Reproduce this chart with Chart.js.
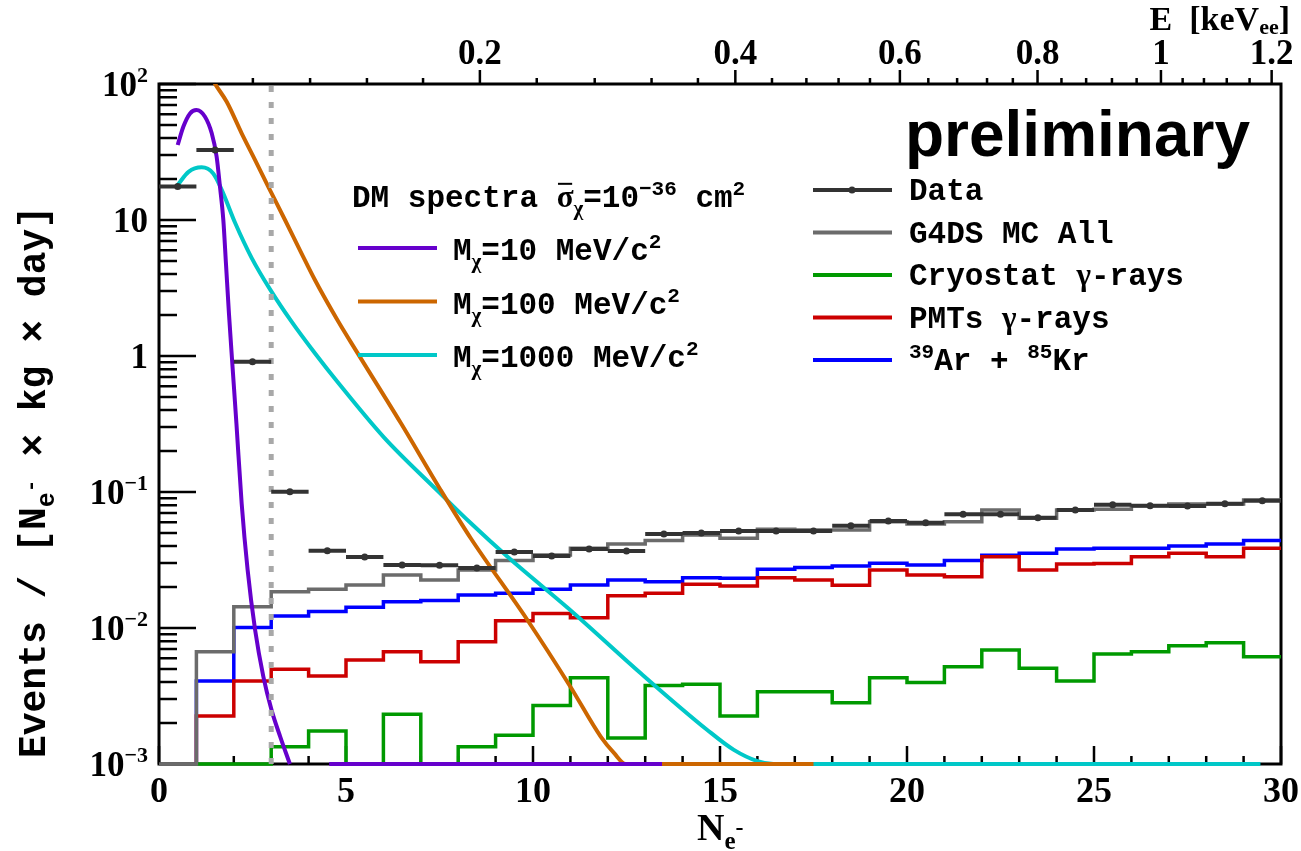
<!DOCTYPE html>
<html>
<head>
<meta charset="utf-8">
<title>N_e- spectrum</title>
<script src="https://cdn.jsdelivr.net/npm/chart.js@4.4.1/dist/chart.umd.min.js"></script>
<style>
  html, body { margin: 0; padding: 0; background: #fff; }
  canvas { display: block; }
</style>
</head>
<body>
<canvas id="spectrum" width="1301" height="851"></canvas>
<script>
// one bin per extracted electron
const binEdges = [0, 1, 2, 3, 4, 5, 6, 7, 8, 9, 10, 11, 12, 13, 14, 15, 16, 17, 18, 19, 20,
                  21, 22, 23, 24, 25, 26, 27, 28, 29, 30];

// events / [N_e- x kg x day], per bin (null = bin not filled, 0 = empty bin)
const dataRate = [17.6, 32.7, 0.908, 0.1005, 0.037, 0.0333, 0.029, 0.0289, 0.0276, 0.0362,
                  0.0338, 0.0381, 0.0368, 0.0491, 0.05, 0.0517, 0.0517, 0.0517, 0.0565, 0.0612,
                  0.0594, 0.0686, 0.0686, 0.0647, 0.0738, 0.0807, 0.0793, 0.079, 0.082, 0.0863];
const mcAll = [0, 0.0067, 0.01435, 0.0185, 0.0193, 0.0207, 0.0245, 0.0225, 0.0267, 0.0313,
               0.0344, 0.0386, 0.0415, 0.0439, 0.0483, 0.0457, 0.0532, 0.0526, 0.0526, 0.0605,
               0.0582, 0.0605, 0.0738, 0.0641, 0.0738, 0.0746, 0.0793, 0.0817, 0.0817, 0.0873];
const cryostat = [null, 0, 0, 0.00134, 0.00175, 0, 0.00232, 0, 0.00134, 0.00163,
                  0.00269, 0.00431, 0.00155, 0.00377, 0.00386, 0.00225, 0.0034, 0.0034, 0.00282, 0.00431,
                  0.00397, 0.00519, 0.00689, 0.00506, 0.00407, 0.00644, 0.0067, 0.00741, 0.0078, 0.00615];
const pmts = [null, 0.00225, 0.00407, 0.00497, 0.00444, 0.00582, 0.0067, 0.00565, 0.00793, 0.0113,
              0.0128, 0.0119, 0.0173, 0.018, 0.021, 0.0204, 0.0234, 0.0225, 0.0206, 0.0267,
              0.0245, 0.0238, 0.0334, 0.0267, 0.0296, 0.0298, 0.0334, 0.0354, 0.0334, 0.0386];
const arKr = [null, 0.00407, 0.0101, 0.01225, 0.0132, 0.0142, 0.0156, 0.0159, 0.0175, 0.018,
              0.0193, 0.0207, 0.0225, 0.0219, 0.0234, 0.0232, 0.027, 0.0279, 0.0286, 0.0299,
              0.029, 0.0313, 0.0343, 0.0354, 0.0381, 0.0386, 0.0386, 0.0401, 0.0415, 0.0439];

// DM spectra for sigma = 1e-36 cm2 (0 = below the frame, null = not drawn)
const m10Ne   = [0.5, 0.65, 0.83, 1.0, 1.23, 1.41, 1.54, 1.63, 1.72, 1.79, 1.87, 1.96, 2.07, 2.21,
                 2.37, 2.57, 2.79, 3.01, 3.24, 3.5, 4.0, 4.55, 13.45];
const m10Rate = [35.6, 48.5, 60.8, 64.4, 57.5, 43.4, 29.3, 17.6, 10, 4.8, 2.06, 0.883, 0.32, 0.0826,
                 0.0267, 0.00966, 0.00439, 0.00249, 0.00159, 0.001, null, 0, 0];
const m100Ne   = [1.2, 1.5, 1.81, 2.21, 2.57, 2.93, 3.37, 3.81, 4.17, 4.77, 5.31, 6.47, 7.53, 8.34,
                  9.85, 11.0, 11.81, 12.17, 12.48, 17.5];
const m100Rate = [140, 100, 74, 43.4, 27.6, 17.4, 10, 5.69, 3.62, 1.84, 1.05, 0.32, 0.1035, 0.0455,
                  0.01145, 0.0037, 0.00159, 0.0012, 0.001, 0];
const m1000Ne   = [0.5, 0.79, 1.14, 1.45, 1.68, 2.04, 2.48, 2.97, 3.55, 4.17, 4.77, 6.02, 7.45, 8.34,
                   9.32, 11.1, 12.88, 14.66, 15.37, 16.0, 16.43, 29.45];
const m1000Rate = [18.1, 22.6, 24.4, 22.0, 16.6, 9.46, 5.25, 3.09, 1.78, 1.047, 0.646, 0.251, 0.102, 0.0589,
                   0.0334, 0.0128, 0.00465, 0.00178, 0.00127, 0.00105, 0.001, 0];

// analysis threshold
const thresholdNe = 3;

// axis ticks
const xTickValues = [0, 5, 10, 15, 20, 25, 30];
const yDecades = [-3, -2, -1, 0, 1, 2];
const energyLabels = ['0.2', '0.4', '0.6', '0.8', '1', '1.2'];
const energyMajorNe = [8.58, 15.41, 19.81, 23.49, 26.79, 29.75];
const energyMinorNe = [2.51, 4.04, 5.56, 7.06, 10.1, 11.65, 13.17, 14.41, 16.39, 17.31, 18.17, 19.01,
                       20.57, 21.34, 22.14, 22.83, 24.13, 24.79, 25.48, 26.14, 27.37, 27.94, 28.55, 29.16];

const Y_MIN = 1e-3, Y_MAX = 1e2;

const MONO = '"Liberation Mono", "Courier New", monospace';
const SERIF = '"Liberation Serif", "Times New Roman", serif';
const SANS = '"Liberation Sans", Arial, sans-serif';

const COLORS = {
  data: '#333333', mc: '#6b6b6b', cryo: '#009900', pmt: '#cc0000', ar: '#0000ff',
  m10: '#6600cc', m100: '#cc6600', m1000: '#00c8c8', cut: '#a8a8a8'
};

// ROOT-style step histogram; empty bins sit on the lower frame edge
function stepLine(values) {
  const pts = [];
  values.forEach((v, i) => {
    if (v === null) return;
    const y = Math.max(v, Y_MIN);
    if (i > 0 && values[i - 1] === null) pts.push({ x: binEdges[i], y: Y_MIN });
    pts.push({ x: binEdges[i], y }, { x: binEdges[i + 1], y });
  });
  return pts;
}

// horizontal bin-width bars of the data points
function binBars(values) {
  const pts = [];
  values.forEach((v, i) => {
    pts.push({ x: binEdges[i], y: v }, { x: binEdges[i + 1], y: v }, { x: binEdges[i + 1], y: null });
  });
  return pts;
}

function curve(ne, rate) {
  return ne.map((x, i) => ({ x, y: rate[i] === null ? null : Math.max(rate[i], Y_MIN) }));
}

const floorClip = { left: 0, top: 0, right: 0, bottom: 3 };

function histSet(values, color, order) {
  return {
    data: stepLine(values), borderColor: color, borderWidth: 3.5, pointRadius: 0,
    borderJoinStyle: 'miter', order, clip: floorClip
  };
}

function dmSet(ne, rate, color, order) {
  return {
    data: curve(ne, rate), borderColor: color, borderWidth: 4, pointRadius: 0,
    cubicInterpolationMode: 'monotone', order, clip: floorClip
  };
}

const datasets = [
  {
    data: dataRate.map((v, i) => ({ x: binEdges[i] + 0.5, y: v })),
    showLine: false, pointRadius: 3.5, pointBackgroundColor: COLORS.data,
    pointBorderWidth: 0, order: 0
  },
  { data: binBars(dataRate), borderColor: COLORS.data, borderWidth: 4, pointRadius: 0, order: 1 },
  {
    data: [{ x: thresholdNe, y: Y_MIN }, { x: thresholdNe, y: Y_MAX }],
    borderColor: COLORS.cut, borderWidth: 5, borderDash: [6, 10], pointRadius: 0, order: 2
  },
  dmSet(m10Ne, m10Rate, COLORS.m10, 3),
  dmSet(m100Ne, m100Rate, COLORS.m100, 4),
  dmSet(m1000Ne, m1000Rate, COLORS.m1000, 5),
  histSet(mcAll, COLORS.mc, 6),
  histSet(cryostat, COLORS.cryo, 7),
  histSet(pmts, COLORS.pmt, 8),
  histSet(arKr, COLORS.ar, 9)
];

// text made of pieces with their own size and baseline shift
function richWidth(ctx, segs) {
  let w = 0;
  for (const s of segs) {
    ctx.font = `bold ${s.size}px ${s.font}`;
    w += ctx.measureText(s.text).width;
  }
  return w;
}

function drawRich(ctx, x, y, segs) {
  let cx = x;
  for (const s of segs) {
    ctx.font = `bold ${s.size}px ${s.font}`;
    const w = ctx.measureText(s.text).width;
    const by = y + (s.dy || 0);
    ctx.fillText(s.text, cx, by);
    if (s.overline) ctx.fillRect(cx + w * 0.08, by - s.size * 0.78, w * 0.84, 2);
    cx += w;
  }
  return cx;
}

const T = (text, size, font, dy, extra) => Object.assign({ text, size, font, dy: dy || 0 }, extra || {});

const LEG = 31, SUP = 21, TICK = 35;

const dmLegend = [
  { color: COLORS.m10, mass: '=10 MeV/c' },
  { color: COLORS.m100, mass: '=100 MeV/c' },
  { color: COLORS.m1000, mass: '=1000 MeV/c' }
];

const bkgLegend = [
  { color: COLORS.data, dot: true, segs: [T('Data', LEG, MONO)] },
  { color: COLORS.mc, segs: [T('G4DS MC All', LEG, MONO)] },
  { color: COLORS.cryo, segs: [T('Cryostat ', LEG, MONO), T('\u03b3', LEG, SERIF), T('-rays', LEG, MONO)] },
  { color: COLORS.pmt, segs: [T('PMTs ', LEG, MONO), T('\u03b3', LEG, SERIF), T('-rays', LEG, MONO)] },
  { color: COLORS.ar, segs: [T('39', SUP, MONO, -12), T('Ar + ', LEG, MONO), T('85', SUP, MONO, -12), T('Kr', LEG, MONO)] }
];

const rootFrame = {
  id: 'rootFrame',
  beforeDatasetsDraw(chart) {
    const { ctx, chartArea: a, scales: { x, y } } = chart;
    ctx.save();
    ctx.strokeStyle = '#000';
    ctx.lineWidth = 2.5;
    ctx.beginPath();
    // N_e- axis: ticks point into the frame
    for (let n = 0; n <= 30; n++) {
      const px = x.getPixelForValue(n);
      ctx.moveTo(px, a.bottom);
      ctx.lineTo(px, a.bottom - (n % 5 === 0 ? 18 : 8));
    }
    // rate axis, log ticks
    yDecades.forEach(e => {
      const dec = Math.pow(10, e);
      const py = y.getPixelForValue(dec);
      ctx.moveTo(a.left, py);
      ctx.lineTo(a.left + 37, py);
      if (dec < Y_MAX) {
        for (let m = 2; m <= 9; m++) {
          const pm = y.getPixelForValue(m * dec);
          ctx.moveTo(a.left, pm);
          ctx.lineTo(a.left + 18, pm);
        }
      }
    });
    // energy axis along the top, ticks point outwards
    energyMajorNe.forEach(ne => {
      const px = x.getPixelForValue(ne);
      ctx.moveTo(px, a.top);
      ctx.lineTo(px, a.top - 14);
    });
    energyMinorNe.forEach(ne => {
      const px = x.getPixelForValue(ne);
      ctx.moveTo(px, a.top);
      ctx.lineTo(px, a.top - 6);
    });
    ctx.stroke();
    ctx.lineWidth = 3;
    ctx.strokeRect(a.left, a.top, a.right - a.left, a.bottom - a.top);
    ctx.restore();
  },
  afterDraw(chart) {
    const { ctx, chartArea: a, scales: { x, y } } = chart;
    ctx.save();
    ctx.fillStyle = '#000';
    ctx.textBaseline = 'alphabetic';

    // tick labels
    ctx.font = `bold ${TICK + 1}px ${SERIF}`;
    ctx.textAlign = 'center';
    xTickValues.forEach(v => ctx.fillText(String(v), x.getPixelForValue(v), a.bottom + 38));
    ctx.font = `bold ${TICK}px ${SERIF}`;
    energyLabels.forEach((lab, i) => ctx.fillText(lab, x.getPixelForValue(energyMajorNe[i]), a.top - 20));

    ctx.textAlign = 'left';
    yDecades.forEach(e => {
      const py = y.getPixelForValue(Math.pow(10, e)) + 12;
      let segs;
      if (e === 0) segs = [T('1', TICK, SERIF)];
      else if (e === 1) segs = [T('10', TICK, SERIF)];
      else segs = [T('10', TICK, SERIF), T(e < 0 ? '\u2212' + (-e) : String(e), 22, SERIF, -14)];
      drawRich(ctx, a.left - 11 - richWidth(ctx, segs), py, segs);
    });

    // axis titles
    const xTitle = [T('N', 38, SERIF), T('e', 25, SERIF, 9), T('-', 24, SERIF, -5)];
    drawRich(ctx, 697, 840, xTitle);

    const eTitle = [T('E  [keV', 34, SERIF), T('ee', 22, SERIF, 4), T(']', 34, SERIF)];
    drawRich(ctx, a.right + 9 - richWidth(ctx, eTitle), 30, eTitle);

    const yTitle = [T('Events / [N', 38, MONO), T('e', 25, MONO, 9), T('-', 21, MONO, -8),
                    T(' \u00d7 kg \u00d7 day]', 38, MONO)];
    ctx.save();
    ctx.translate(45, 482);
    ctx.rotate(-Math.PI / 2);
    drawRich(ctx, -richWidth(ctx, yTitle) / 2, 0, yTitle);
    ctx.restore();

    // DM legend
    drawRich(ctx, 352, 207, [
      T('DM spectra ', LEG, MONO), T('\u03c3', LEG, SERIF, 0, { overline: true }),
      T('\u03c7', SUP, SERIF, 8), T('=10', LEG, MONO), T('\u221236', SUP, MONO, -12),
      T(' cm', LEG, MONO), T('2', SUP, MONO, -12)
    ]);
    dmLegend.forEach((item, i) => {
      const ly = 248 + i * 53.5;
      ctx.strokeStyle = item.color;
      ctx.lineWidth = 4;
      ctx.beginPath();
      ctx.moveTo(358, ly);
      ctx.lineTo(437, ly);
      ctx.stroke();
      drawRich(ctx, 453, ly + 12, [
        T('M', LEG, MONO), T('\u03c7', SUP, SERIF, 8), T(item.mass, LEG, MONO), T('2', SUP, MONO, -12)
      ]);
    });

    // background legend
    bkgLegend.forEach((item, i) => {
      const ly = 190 + i * 42.5;
      ctx.strokeStyle = item.color;
      ctx.lineWidth = 4;
      ctx.beginPath();
      ctx.moveTo(813, ly);
      ctx.lineTo(892, ly);
      ctx.stroke();
      if (item.dot) {
        ctx.fillStyle = item.color;
        ctx.beginPath();
        ctx.arc(852, ly, 3.5, 0, Math.PI * 2);
        ctx.fill();
        ctx.fillStyle = '#000';
      }
      drawRich(ctx, 909, ly + 10, item.segs);
    });

    ctx.font = `bold 64px ${SANS}`;
    ctx.textAlign = 'right';
    ctx.fillText('preliminary', 1250, 156);
    ctx.restore();
  }
};

new Chart(document.getElementById('spectrum'), {
  type: 'line',
  data: { datasets },
  options: {
    responsive: false,
    animation: false,
    devicePixelRatio: 1,
    spanGaps: false,
    layout: { padding: { left: 159, top: 84, right: 20, bottom: 87 } },
    scales: {
      x: { type: 'linear', min: 0, max: 30, display: false },
      y: { type: 'logarithmic', min: Y_MIN, max: Y_MAX, display: false }
    },
    plugins: { legend: { display: false }, tooltip: { enabled: false } },
    events: []
  },
  plugins: [rootFrame]
});
</script>
</body>
</html>
